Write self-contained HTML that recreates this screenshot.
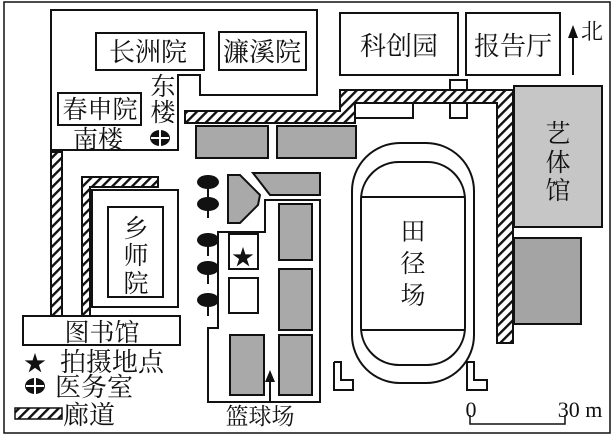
<!DOCTYPE html>
<html><head><meta charset="utf-8"><style>
html,body{margin:0;padding:0;background:#fff;}
svg{display:block;}
text{font-family:"Liberation Serif","Noto Serif CJK SC","Noto Sans CJK SC",serif;fill:#111;}
</style></head><body>
<svg width="614" height="436" viewBox="0 0 614 436" xmlns="http://www.w3.org/2000/svg">
<defs>
<pattern id="h" patternUnits="userSpaceOnUse" width="7" height="7" patternTransform="rotate(45)">
<rect width="7" height="7" fill="#fff"/><rect width="2.4" height="7" fill="#111"/>
</pattern>
</defs>
<g stroke="#111" stroke-width="2" fill="none">
<rect x="4" y="2" width="606" height="431" stroke-width="1.5"/>
<polygon points="51,10 317,10 317,95 200,95 200,75 178,75 178,150 51,150" fill="#fff"/>
<rect x="96" y="33" width="108" height="37"/>
<rect x="219" y="32" width="87" height="38"/>
<rect x="58" y="93" width="83" height="32"/>
<rect x="340" y="13" width="118" height="62"/>
<rect x="466" y="13" width="94" height="62"/>
<polygon points="340,90 513,90 513,343 497,343 497,103 355,103 355,123 185,123 185,111 340,111" fill="url(#h)"/>
<rect x="51" y="152" width="11" height="164" fill="url(#h)"/>
<polygon points="82,177 158,177 158,187 90,187 90,316 82,316" fill="url(#h)"/>
<rect x="355" y="103" width="58" height="15" fill="#fff"/>
<rect x="450" y="80" width="17" height="10" fill="#fff"/>
<rect x="450" y="103" width="17" height="15" fill="#fff"/>
<rect x="196" y="126" width="72" height="32" fill="#a9a9a9"/>
<rect x="277" y="126" width="79" height="32" fill="#a9a9a9"/>
<rect x="514" y="86" width="88" height="141" fill="#c6c6c6"/>
<rect x="514" y="238" width="67" height="86" fill="#a4a4a4"/>
<rect x="92" y="190" width="86" height="117" fill="#fff"/>
<rect x="108" y="207" width="55" height="90"/>
<rect x="23" y="316" width="157" height="29" fill="#fff"/>
<polygon points="228,175 240,175 260,195 258,205 240,223 228,223" fill="#a9a9a9"/>
<polygon points="253,173 320,173 320,195 270,195" fill="#a9a9a9"/>
<polygon points="265,200 320,200 320,402 208,402 208,328 218,328 218,232 265,232"/>
<rect x="229" y="234" width="29" height="35"/>
<rect x="229" y="278" width="29" height="35"/>
<rect x="279" y="204" width="33" height="56" fill="#a9a9a9"/>
<rect x="279" y="269" width="33" height="61" fill="#a9a9a9"/>
<rect x="279" y="335" width="33" height="60" fill="#a9a9a9"/>
<rect x="230" y="335" width="34" height="60" fill="#a9a9a9"/>
<line x1="270" y1="402" x2="270" y2="378"/>
<rect x="352" y="143" width="122" height="240" rx="48"/>
<rect x="361" y="162" width="104" height="203" rx="38"/>
<line x1="362" y1="197" x2="464" y2="197"/>
<line x1="362" y1="330" x2="464" y2="330"/>
<polyline points="334,362 341,362 341,380 353,380 353,390 334,390 334,362"/>
<polyline points="467,362 474,362 474,380 487,380 487,390 467,390 467,362"/>
<line x1="573" y1="75" x2="573" y2="34"/>
<polyline points="470,415 470,424 565,424 565,415" stroke-width="1.5"/>
<rect x="15" y="408" width="47" height="11" fill="url(#h)" stroke-width="1.5"/>
<g fill="#111" stroke="none">
<ellipse cx="208" cy="182" rx="11" ry="7"/><rect x="207" y="182" width="2" height="16"/>
<ellipse cx="208" cy="204" rx="11" ry="7"/><rect x="207" y="204" width="2" height="14"/>
<ellipse cx="208" cy="240" rx="11" ry="7"/><rect x="207" y="240" width="2" height="16"/>
<ellipse cx="208" cy="268" rx="11" ry="7"/><rect x="207" y="268" width="2" height="16"/>
<ellipse cx="208" cy="300" rx="11" ry="7"/><rect x="207" y="300" width="2" height="16"/>
<polygon points="270,370 265,382 275,382"/>
<polygon points="573,25 568,38 578,38"/>
</g>
</g>
<g>
<ellipse cx="160" cy="138" rx="10" ry="8" fill="#111"/>
<rect x="151" y="137" width="18" height="2" fill="#fff"/><rect x="159" y="130" width="2" height="16" fill="#fff"/>
<ellipse cx="35" cy="386" rx="10" ry="8" fill="#111"/>
<rect x="26" y="385" width="18" height="2" fill="#fff"/><rect x="34" y="378" width="2" height="16" fill="#fff"/>
</g>
<text x="243" y="265" font-size="22" text-anchor="middle">★</text>
<text x="35" y="371" font-size="22" text-anchor="middle">★</text>
<g font-size="26">
<text x="148" y="61" text-anchor="middle">长洲院</text>
<text x="262" y="61" text-anchor="middle">濂溪院</text>
<text x="399" y="55" text-anchor="middle">科创园</text>
<text x="513" y="55" text-anchor="middle">报告厅</text>
<text x="100" y="118" text-anchor="middle" font-size="25">春申院</text>
<text x="98" y="148" text-anchor="middle" font-size="25">南楼</text>
<text x="163" y="95" text-anchor="middle" font-size="25">东</text>
<text x="163" y="121" text-anchor="middle" font-size="25">楼</text>
<text x="592" y="39" text-anchor="middle" font-size="22">北</text>
<text x="136" y="237" text-anchor="middle" font-size="25">乡</text>
<text x="136" y="264" text-anchor="middle" font-size="25">师</text>
<text x="136" y="292" text-anchor="middle" font-size="25">院</text>
<text x="102" y="341" text-anchor="middle" font-size="25">图书馆</text>
<text x="558" y="142" text-anchor="middle" font-size="25">艺</text>
<text x="558" y="171" text-anchor="middle" font-size="25">体</text>
<text x="558" y="199" text-anchor="middle" font-size="25">馆</text>
<text x="413" y="240" text-anchor="middle" font-size="25">田</text>
<text x="413" y="272" text-anchor="middle" font-size="25">径</text>
<text x="413" y="304" text-anchor="middle" font-size="25">场</text>
<text x="60" y="371">拍摄地点</text>
<text x="55" y="396">医务室</text>
<text x="63" y="424">廊道</text>
<text x="260" y="424" text-anchor="middle" font-size="23">篮球场</text>
<text x="471" y="417" text-anchor="middle" font-size="22">0</text>
<text x="580" y="417" text-anchor="middle" font-size="22">30 m</text>
</g>
</svg>
</body></html>
